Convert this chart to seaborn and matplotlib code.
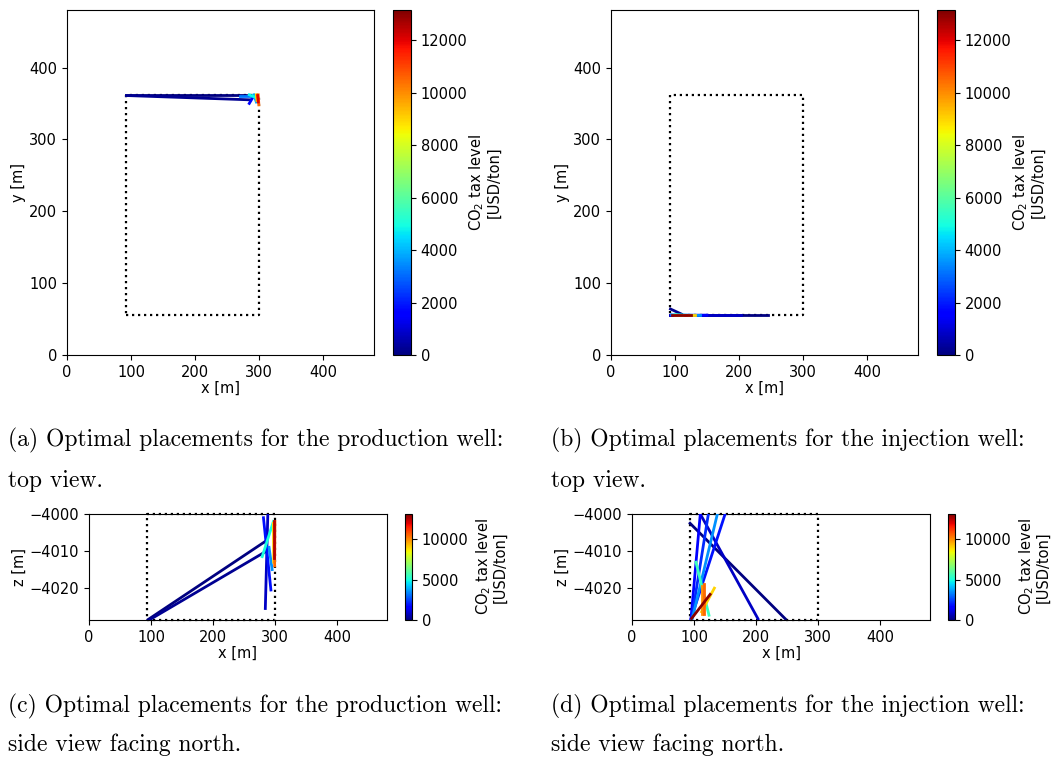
import numpy as np
import pandas as pd
import matplotlib
matplotlib.use("Agg")
import matplotlib.pyplot as plt
from matplotlib.colors import Normalize
from matplotlib.cm import ScalarMappable
import seaborn as sns

# ---------------- data ----------------
TAX_MAX = 13150
# reservoir outline
box_x = [93, 300]
box_y = [55, 362]
box_z = [-4028.6, -4000]

# production well, top view: tax, x1, y1, x2, y2
prod_top_tax = [0, 250, 1500, 3200, 4800, 3800, 9000, 10500, 12000]
prod_top_x1 = [93, 93, 291, 270, 285, 292, 296, 299, 298]
prod_top_y1 = [362, 361, 359, 360, 362, 362, 362, 362, 361]
prod_top_x2 = [280, 287, 285, 294, 296, 296, 297, 300, 299]
prod_top_y2 = [362, 355, 350, 360, 358, 352, 354, 348, 352]

# injection well, top view
inj_top_tax = [0, 800, 200, 1500, 3500, 2500, 5500, 9000, 10500, 13000]
inj_top_x1 = [93, 93, 93, 95, 95, 95, 100, 100, 115, 95]
inj_top_y1 = [55, 55.5, 64, 55, 56, 55, 56, 55, 55, 55]
inj_top_x2 = [245, 203, 110, 150, 140, 125, 123, 132, 117, 125]
inj_top_y2 = [55, 55.5, 57, 55.5, 55, 55, 55, 55, 55, 55]

# production well, side view: tax, x1, z1, x2, z2
prod_side_tax = [0, 250, 800, 1800, 5000, 3500, 9000, 10500, 12500]
prod_side_x1 = [95, 98, 288, 281, 297, 290, 297, 299.5, 298.5]
prod_side_z1 = [-4028.5, -4028.5, -4000.3, -4001, -4002, -4009, -4002.5, -4002, -4002]
prod_side_x2 = [283, 286, 284, 293, 279, 295, 297.5, 299, 298.5]
prod_side_z2 = [-4007.5, -4010, -4025.5, -4020.5, -4011.5, -4015, -4013, -4014, -4012]

# injection well, side view
inj_side_tax = [0, 800, 1500, 2200, 3500, 1900, 5500, 10500, 10000, 9000, 13000]
inj_side_x1 = [93.5, 110, 95, 96, 97, 95, 103, 116, 113, 112, 96]
inj_side_z1 = [-4002.5, -4000, -4028.3, -4028.3, -4028.3, -4028.3, -4013, -4019, -4019.5, -4026.4, -4028.2]
inj_side_x2 = [247, 203, 110, 123, 137.5, 150, 124, 116, 113, 132.7, 125.8]
inj_side_z2 = [-4028.3, -4028.3, -4000, -4000, -4000, -4000, -4027.3, -4027, -4027, -4020, -4021.7]

captions = [
    ("(a) Optimal placements for the production well:", "top view."),
    ("(b) Optimal placements for the injection well:", "top view."),
    ("(c) Optimal placements for the production well:", "side view facing north."),
    ("(d) Optimal placements for the injection well:", "side view facing north."),
]

# ---------------- figure ----------------
W, H = 1052, 759
plt.rcParams["font.family"] = ["DejaVu Sans"]
plt.rcParams["font.size"] = 10.5
fig = plt.figure(figsize=(W / 100, H / 100), dpi=100)
norm = Normalize(0, TAX_MAX)
cmap = matplotlib.colormaps["jet"]


def px_axes(l, r, t, b):
    return fig.add_axes([l / W, 1 - b / H, (r - l) / W, (b - t) / H])


def segs_df(tax, x1, y1, x2, y2):
    rows = []
    for i, (t, a, b, c, d) in enumerate(zip(tax, x1, y1, x2, y2)):
        rows.append((i, t, a, b))
        rows.append((i, t, c, d))
    return pd.DataFrame(rows, columns=["well", "tax", "u", "v"])


def draw(ax, df, bx, by, ylim, yticks, ylabel):
    ax.plot([bx[0], bx[1], bx[1], bx[0], bx[0]],
            [by[0], by[0], by[1], by[1], by[0]],
            color="black", linestyle=(0, (1, 1.7)), linewidth=1.6,
            zorder=3, clip_on=False)
    sns.lineplot(data=df, x="u", y="v", hue="tax", units="well", estimator=None,
                 sort=False, palette=cmap, hue_norm=norm, legend=False,
                 linewidth=2.0, ax=ax, zorder=4)
    ax.set_xlim(0, 480)
    ax.set_ylim(*ylim)
    ax.set_xticks([0, 100, 200, 300, 400])
    ax.set_yticks(yticks)
    ax.set_xlabel("x [m]", labelpad=1)
    ax.set_ylabel(ylabel, labelpad=2)


def cbar(cax, ticks, pad):
    cb = fig.colorbar(ScalarMappable(norm=norm, cmap=cmap), cax=cax, ticks=ticks)
    cb.set_label("CO$_2$ tax level\n[USD/ton]", labelpad=pad, linespacing=1.0)
    return cb


# (a)
ax_a = px_axes(67, 374, 10, 355)
draw(ax_a, segs_df(prod_top_tax, prod_top_x1, prod_top_y1, prod_top_x2, prod_top_y2),
     box_x, box_y, (0, 480), [0, 100, 200, 300, 400], "y [m]")
cbar(px_axes(393, 411, 10, 355), [0, 2000, 4000, 6000, 8000, 10000, 12000], 0)

# (b)
ax_b = px_axes(611, 918, 10, 355)
draw(ax_b, segs_df(inj_top_tax, inj_top_x1, inj_top_y1, inj_top_x2, inj_top_y2),
     box_x, box_y, (0, 480), [0, 100, 200, 300, 400], "y [m]")
cbar(px_axes(937, 955, 10, 355), [0, 2000, 4000, 6000, 8000, 10000, 12000], 0)

# (c)
ax_c = px_axes(89, 387, 514, 620)
draw(ax_c, segs_df(prod_side_tax, prod_side_x1, prod_side_z1, prod_side_x2, prod_side_z2),
     box_x, box_z, (box_z[0], box_z[1]), [-4000, -4010, -4020], "z [m]")
cbar(px_axes(405, 412, 514, 620), [0, 5000, 10000], 4)

# (d)
ax_d = px_axes(632, 930, 514, 620)
draw(ax_d, segs_df(inj_side_tax, inj_side_x1, inj_side_z1, inj_side_x2, inj_side_z2),
     box_x, box_z, (box_z[0], box_z[1]), [-4000, -4010, -4020], "z [m]")
cbar(px_axes(948, 955, 514, 620), [0, 5000, 10000], 4)

# captions
cap_pos = [(8, 446, 487), (551, 446, 487), (8, 712, 751), (551, 712, 751)]
for (l1, l2), (x, y1, y2) in zip(captions, cap_pos):
    fig.text(x / W, 1 - y1 / H, l1, family="cmr10", fontsize=17, va="baseline")
    fig.text(x / W, 1 - y2 / H, l2, family="cmr10", fontsize=17, va="baseline")

fig.savefig("out.png", dpi=100)
